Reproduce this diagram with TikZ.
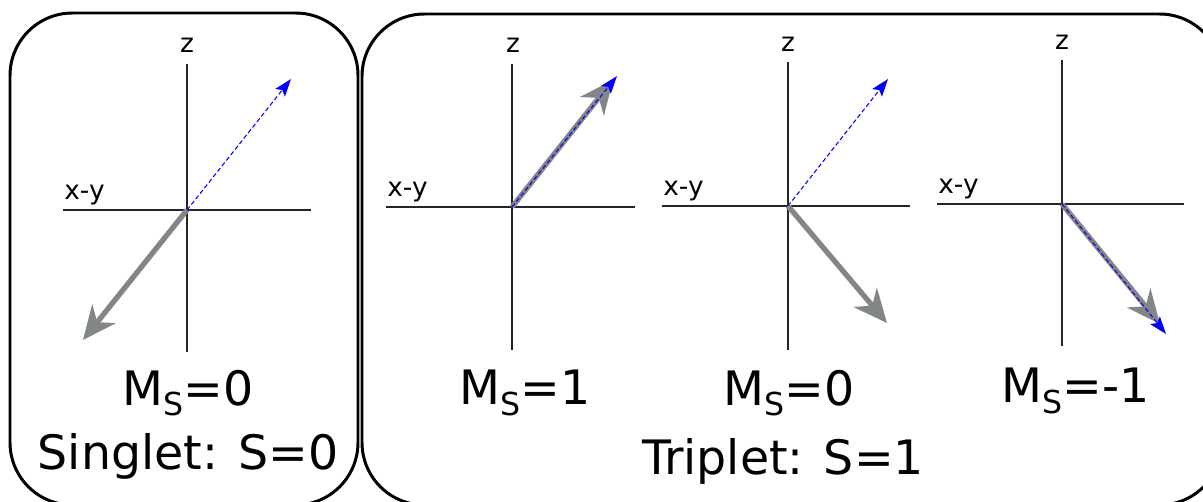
\documentclass[tikz,border=0pt]{standalone}
\usepackage{fontspec}
\setmainfont{DejaVu Sans}
\usepackage{xcolor}
\usetikzlibrary{calc, arrows.meta, positioning}

\definecolor{spingray}{HTML}{828687}
\newcommand{\msub}[1]{M\raisebox{-0.22em}{\fontsize{18}{18}\selectfont S}=#1}

\begin{document}
\begin{tikzpicture}[
    x=0.02cm, y=-0.02cm,
    group_box/.style={draw=black, line width=1.7pt, rounded corners=1.25cm},
    axis_line/.style={draw=black!85, line width=1.1pt},
    axis_label/.style={font=\fontsize{15}{17}\selectfont, inner sep=0pt},
    spin_arrow/.style={draw=spingray, line width=3pt, -{Stealth[length=19pt, width=17pt, inset=6pt]}},
    field_arrow/.style={draw=blue, line width=0.6pt, dash pattern=on 2.5pt off 1.5pt, -{Stealth[length=10pt, width=7pt, inset=2pt]}},
    ms_label/.style={font=\fontsize{27}{32}\selectfont, inner sep=0pt},
    state_label/.style={font=\fontsize{27}{32}\selectfont, inner sep=0pt}
]
    \useasboundingbox (0,0) rectangle (1203,501);

    % =========================================================================
    % BOXES: SINGLET AND TRIPLET
    % =========================================================================
    \draw [group_box] (10,13) rectangle (358,505);
    \draw [group_box] (362,14) rectangle (1222,505);

    % =========================================================================
    % SINGLET: MS=0
    % =========================================================================
    \coordinate (o1) at (187,210);
    \draw [axis_line] (187,64) -- (187,352);
    \draw [axis_line] (63,210) -- (311,210);
    \node [axis_label] (z1) at (187,45) {z};
    \node [axis_label, anchor=south west] (xy1) at (64,205) {x-y};
    \coordinate (b1) at (291,79);
    \coordinate (s1) at (83,340);
    \draw [field_arrow] (o1) -- (b1);
    \draw [spin_arrow] (o1) -- (s1);
    \node [ms_label] (ms1) at (188,393) {\msub{0}};
    \node [state_label] (singlet) at (188,456) {Singlet: S=0};

    % =========================================================================
    % TRIPLET: MS=1
    % =========================================================================
    \coordinate (o2) at (512,207);
    \draw [axis_line] (512,64) -- (512,350);
    \draw [axis_line] (386,207) -- (635,207);
    \node [axis_label] (z2) at (513,45) {z};
    \node [axis_label, anchor=south west] (xy2) at (387,202) {x-y};
    \coordinate (s2) at (613,80);
    \coordinate (b2) at (617,76);
    \draw [spin_arrow] (o2) -- (s2);
    \draw [field_arrow] (o2) -- (b2);
    \node [ms_label] (ms2) at (525,393) {\msub{1}};

    % =========================================================================
    % TRIPLET: MS=0
    % =========================================================================
    \coordinate (o3) at (788,206);
    \draw [axis_line] (788,62) -- (788,350);
    \draw [axis_line] (662,206) -- (910,206);
    \node [axis_label] (z3) at (788,44) {z};
    \node [axis_label, anchor=south west] (xy3) at (663,201) {x-y};
    \coordinate (b3) at (888,79);
    \coordinate (s3) at (887,323);
    \draw [field_arrow] (o3) -- (b3);
    \draw [spin_arrow] (o3) -- (s3);
    \node [ms_label] (ms3) at (789,393) {\msub{0}};

    % =========================================================================
    % TRIPLET: MS=-1
    % =========================================================================
    \coordinate (o4) at (1062,204);
    \draw [axis_line] (1062,60) -- (1062,346);
    \draw [axis_line] (937,204) -- (1184,204);
    \node [axis_label] (z4) at (1062,42) {z};
    \node [axis_label, anchor=south west] (xy4) at (938,199) {x-y};
    \coordinate (s4) at (1160,324);
    \coordinate (b4) at (1166,334);
    \draw [spin_arrow] (o4) -- (s4);
    \draw [field_arrow] (o4) -- (b4);
    \node [ms_label] (ms4) at (1076,391) {\msub{-1}};

    \node [state_label] (triplet) at (783,461) {Triplet: S=1};
\end{tikzpicture}
\end{document}
